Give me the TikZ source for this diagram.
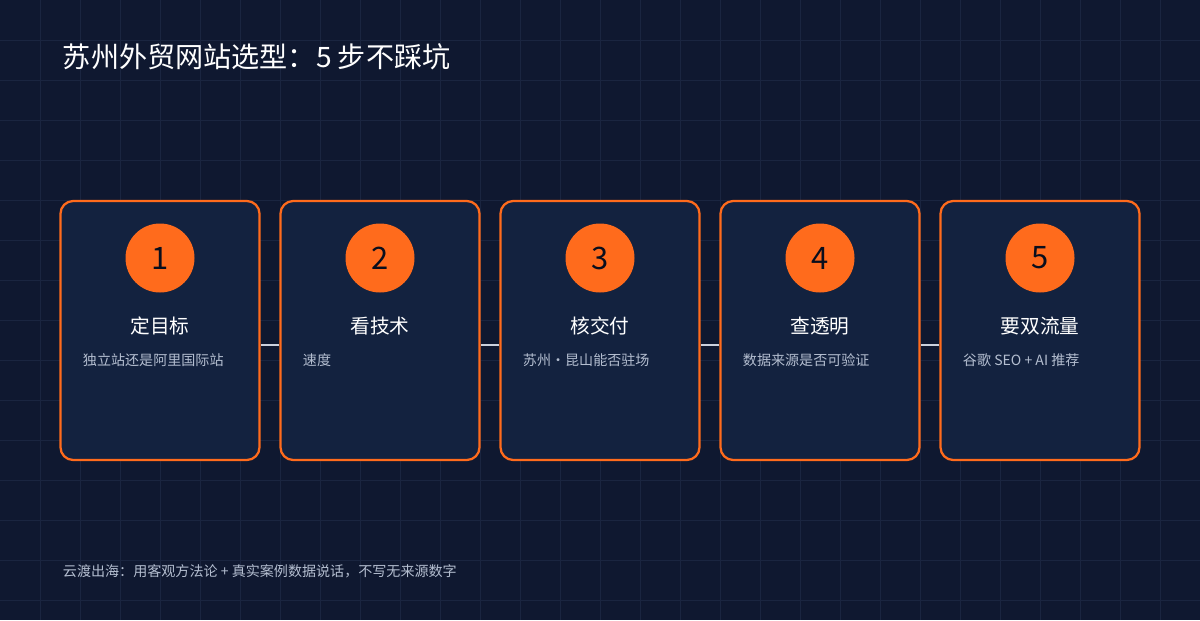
\documentclass[tikz,border=0pt]{standalone}
\usepackage{fontspec}
\setmainfont{Noto Sans CJK SC}
\definecolor{bgblue}{HTML}{0F1830}
\definecolor{gridblue}{HTML}{1A2540}
\definecolor{cardblue}{HTML}{13223F}
\definecolor{accent}{HTML}{FF6B1C}
\definecolor{subgray}{HTML}{B4BED0}
\newlength{\pxu}
\setlength{\pxu}{0.025cm}
\tikzset{
  card/.style={draw=accent, line width=1.6pt, fill=cardblue, rounded corners=9pt,
    minimum width=199\pxu, minimum height=259\pxu, inner sep=0pt},
  badge/.style={circle, fill=accent, minimum size=69\pxu, inner sep=0pt,
    font=\fontsize{22}{22}\selectfont, text=bgblue!60!black},
  steptitle/.style={text=white, font=\fontsize{14}{16}\selectfont},
  note/.style={text=subgray, font=\fontsize{10}{12}\selectfont, anchor=west},
  link/.style={draw=subgray!70, line width=1.2pt}
}
\begin{document}
\begin{tikzpicture}[x=0.025cm, y=-0.025cm]
  \fill[bgblue] (0,0) rectangle (1200,620);
  \useasboundingbox (0,0) rectangle (1200,620);
  \foreach \gx in {40,80,...,1160} \draw[gridblue, line width=0.6pt] (\gx,0) -- (\gx,620);
  \foreach \gy in {40,80,...,600} \draw[gridblue, line width=0.6pt] (0,\gy) -- (1200,\gy);
  \node[anchor=west, text=white, font=\fontsize{20}{24}\selectfont] (title) at (58,57) {苏州外贸网站选型：5 步不踩坑};
  \foreach \i/\name/\desc in {1/定目标/独立站还是阿里国际站, 2/看技术/速度/安全/可扩展, 3/核交付/苏州·昆山能否驻场, 4/查透明/数据来源是否可验证, 5/要双流量/谷歌 SEO + AI 推荐} {
    \pgfmathsetmacro{\cx}{160+220*(\i-1)}
    \node[card] (card\i) at (\cx,330.5) {};
    \node[badge] (num\i) at (\cx,258) {\i};
    \node[steptitle] (step\i) at (\cx,326) {\name};
    \node[note] (note\i) at (\cx-82,360) {\desc};
  }
  \foreach \a/\b in {1/2,2/3,3/4,4/5} \draw[link] ([yshift=-14.5\pxu]card\a.east) -- ([yshift=-14.5\pxu]card\b.west);
  \node[anchor=west, text=subgray, font=\fontsize{10}{12}\selectfont] (foot) at (58,571) {云渡出海：用客观方法论 + 真实案例数据说话，不写无来源数字};
\end{tikzpicture}
\end{document}
